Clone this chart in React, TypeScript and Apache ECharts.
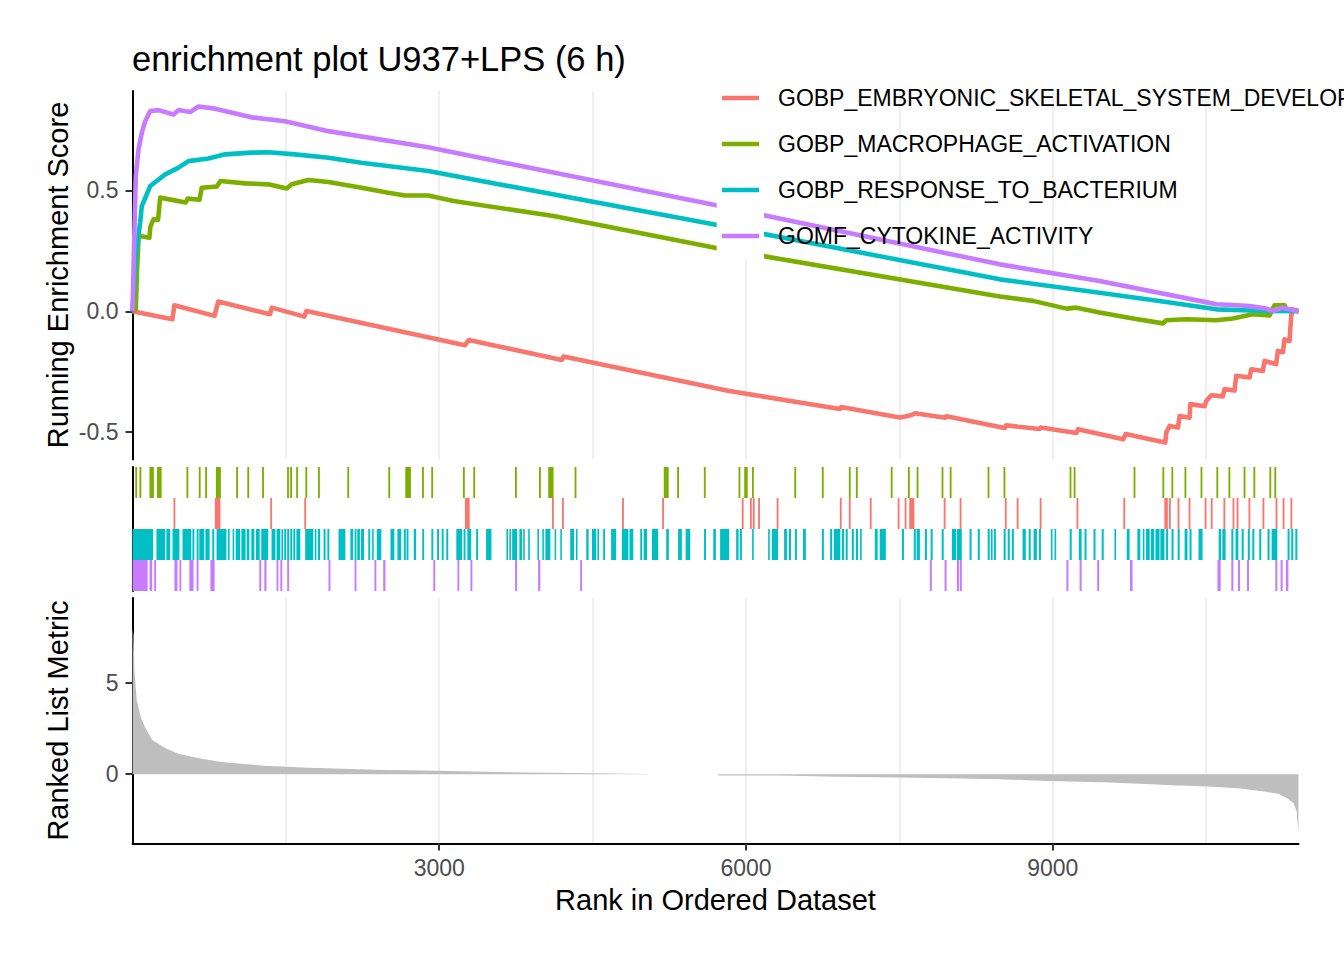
import React, { useEffect, useRef } from "react";
import * as echarts from "echarts";

const FONT = "'Liberation Sans', Arial, Helvetica, sans-serif";
const N_GENES = 11404;
const TITLE = "enrichment plot U937+LPS (6 h)";
const SET_NAMES = [
  "GOBP_EMBRYONIC_SKELETAL_SYSTEM_DEVELOPMENT",
  "GOBP_MACROPHAGE_ACTIVATION",
  "GOBP_RESPONSE_TO_BACTERIUM",
  "GOMF_CYTOKINE_ACTIVITY",
];
const SET_COLORS = ["#F8766D", "#7CAE00", "#00BFC4", "#C77CFF"];
// rug row of each set (0 = bottom row)
const RUG_ROWS = [2, 3, 1, 0];

const X_TICKS = [3000, 6000, 9000];
const ES_TICKS = [-0.5, 0, 0.5];
const METRIC_TICKS = [0, 5];

// Running enrichment score, [rank, score]
const ES_EMBRYONIC: number[][] = [
  [0, 0], [391, -0.033], [409, 0.025], [802, -0.019], [839, 0.04], [1345, -0.012], [1363, 0.015],
  [1681, -0.022], [1700, 0.001], [3252, -0.14], [3289, -0.119], [4200, -0.201], [4215, -0.187],
  [5824, -0.329], [6920, -0.404], [6930, -0.396], [7505, -0.439], [7560, -0.435], [7620, -0.429],
  [7652, -0.422], [7950, -0.44], [7960, -0.434], [8530, -0.483], [8545, -0.472], [8873, -0.487],
  [8882, -0.481], [9233, -0.503], [9247, -0.488], [9690, -0.529], [9713, -0.508], [10101, -0.543],
  [10111, -0.501], [10143, -0.474], [10225, -0.481], [10241, -0.433], [10339, -0.44], [10345, -0.384],
  [10485, -0.393], [10502, -0.371], [10551, -0.347], [10664, -0.352], [10681, -0.322], [10779, -0.328],
  [10795, -0.267], [10925, -0.274], [10942, -0.24], [11055, -0.247], [11072, -0.205], [11186, -0.219],
  [11202, -0.164], [11252, -0.169], [11267, -0.116], [11316, -0.123], [11333, -0.019], [11348, 0.008],
  [11404, 0],
];
const ES_MACROPHAGE: number[][] = [
  [0, 0], [32, 0.008], [45, 0.174], [59, 0.3], [75, 0.311], [165, 0.304], [175, 0.35], [205, 0.38],
  [250, 0.378], [271, 0.47], [520, 0.45], [540, 0.466], [655, 0.461], [677, 0.511], [825, 0.516],
  [860, 0.539], [1101, 0.529], [1329, 0.525], [1508, 0.508], [1557, 0.525], [1720, 0.543], [1915, 0.535],
  [2241, 0.511], [2502, 0.49], [2665, 0.479], [2892, 0.479], [3140, 0.456], [4117, 0.394], [5746, 0.259],
  [8482, 0.061], [8807, 0.043], [9134, 0.011], [9232, 0.015], [9459, -0.005], [9785, -0.03],
  [10078, -0.05], [10111, -0.037], [10307, -0.033], [10600, -0.037], [10762, -0.03], [10957, -0.012],
  [11121, -0.017], [11169, 0.025], [11267, 0.025], [11284, 0.008], [11404, 0],
];
const ES_BACTERIUM: number[][] = [
  [0, 0], [32, 0.229], [75, 0.368], [91, 0.435], [173, 0.518], [320, 0.566], [450, 0.594], [547, 0.621],
  [743, 0.632], [906, 0.649], [1163, 0.656], [1329, 0.658], [1590, 0.649], [1915, 0.635], [2238, 0.614],
  [2892, 0.58], [5746, 0.355], [8482, 0.132], [9459, 0.077], [10111, 0.038], [10600, 0.008],
  [11089, 0.001], [11404, 0],
];
const ES_CYTOKINE: number[][] = [
  [0, 0], [32, 0.559], [59, 0.669], [91, 0.738], [124, 0.786], [173, 0.828], [254, 0.832], [401, 0.814],
  [450, 0.832], [564, 0.824], [645, 0.847], [808, 0.838], [1163, 0.802], [1492, 0.786], [1915, 0.745],
  [2892, 0.678], [5746, 0.435], [8482, 0.194], [9459, 0.125], [10436, 0.043], [10600, 0.029],
  [10762, 0.026], [10925, 0.022], [11089, 0.011], [11150, 0.001], [11248, 0.015], [11404, 0],
];

// Gene-set hit positions, [first rank, last rank] of each tick or block of ticks
const HITS_EMBRYONIC: number[][] = [
  [401, 419], [805, 860], [1347, 1365], [1680, 1698], [3251, 3298], [4103, 4121], [4201, 4219],
  [4788, 4806], [5180, 5198], [5959, 5977], [6039, 6057], [6067, 6085], [6119, 6137], [6300, 6318],
  [6918, 6936], [7006, 7024], [7211, 7229], [7484, 7502], [7552, 7570], [7597, 7647], [7934, 7952],
  [8090, 8108], [8532, 8550], [8648, 8666], [8873, 8891], [9233, 9251], [9691, 9709], [10092, 10126],
  [10137, 10155], [10221, 10239], [10329, 10347], [10486, 10504], [10546, 10564], [10670, 10688],
  [10759, 10777], [10799, 10817], [10915, 10933], [11052, 11070], [11180, 11198], [11249, 11267],
  [11325, 11343],
];
const HITS_MACROPHAGE: number[][] = [
  [27, 45], [68, 86], [166, 209], [240, 285], [528, 546], [648, 666], [711, 729], [816, 864],
  [1014, 1032], [1123, 1141], [1268, 1286], [1512, 1530], [1542, 1560], [1601, 1619], [1691, 1709],
  [1814, 1832], [2101, 2119], [2502, 2520], [2668, 2723], [2832, 2850], [2922, 2940], [3232, 3250],
  [3333, 3351], [3741, 3759], [3976, 3994], [4066, 4118], [4324, 4342], [5196, 5244], [5327, 5345],
  [5588, 5606], [5927, 5945], [5983, 6017], [6059, 6077], [6473, 6491], [6742, 6760], [7006, 7024],
  [7075, 7093], [7416, 7434], [7584, 7602], [7669, 7687], [7913, 7931], [7993, 8011], [8363, 8381],
  [8519, 8537], [9165, 9183], [9205, 9223], [9791, 9809], [10073, 10091], [10161, 10179],
  [10289, 10307], [10446, 10464], [10601, 10619], [10719, 10737], [10867, 10885], [10963, 10981],
  [11119, 11137], [11168, 11186],
];
const HITS_BACTERIUM: number[][] = [
  [0, 201], [234, 320], [331, 369], [391, 459], [489, 575], [586, 605], [627, 646], [653, 702],
  [713, 754], [780, 799], [822, 919], [934, 949], [979, 994], [1009, 1053], [1065, 1106], [1117, 1143],
  [1162, 1192], [1207, 1244], [1259, 1327], [1360, 1398], [1409, 1446], [1457, 1472], [1484, 1502],
  [1513, 1532], [1543, 1562], [1573, 1592], [1603, 1641], [1689, 1768], [1783, 1798], [1813, 1835],
  [1869, 1888], [1906, 1925], [2015, 2082], [2131, 2157], [2172, 2190], [2198, 2224], [2235, 2265],
  [2306, 2325], [2344, 2359], [2389, 2434], [2523, 2561], [2591, 2628], [2654, 2673], [2680, 2699],
  [2751, 2774], [2834, 2852], [2923, 2942], [2979, 2998], [3024, 3043], [3069, 3088], [3167, 3223],
  [3238, 3257], [3275, 3313], [3361, 3380], [3458, 3511], [3657, 3671], [3686, 3701], [3713, 3761],
  [3784, 3810], [3821, 3836], [3870, 3885], [3960, 3974], [4008, 4023], [4038, 4087], [4128, 4143],
  [4184, 4199], [4281, 4318], [4337, 4352], [4438, 4461], [4494, 4535], [4547, 4561], [4603, 4621],
  [4681, 4730], [4786, 4850], [4861, 4898], [4966, 4984], [4999, 5033], [5081, 5141], [5220, 5246],
  [5336, 5373], [5410, 5455], [5590, 5609], [5680, 5706], [5747, 5835], [5904, 5928], [5940, 5960],
  [6060, 6076], [6217, 6233], [6253, 6313], [6373, 6401], [6421, 6441], [6478, 6498], [6558, 6586],
  [6742, 6762], [6823, 6843], [6859, 6923], [6939, 6959], [6975, 6995], [7035, 7055], [7075, 7096],
  [7116, 7132], [7260, 7288], [7308, 7368], [7525, 7545], [7641, 7661], [7669, 7701], [7750, 7770],
  [7806, 7826], [7914, 7934], [8014, 8055], [8063, 8111], [8187, 8207], [8267, 8287], [8364, 8384],
  [8396, 8412], [8424, 8444], [8520, 8540], [8560, 8580], [8600, 8620], [8705, 8737], [8765, 8785],
  [8813, 8845], [8865, 8885], [8982, 8998], [9018, 9034], [9166, 9186], [9255, 9283], [9311, 9331],
  [9399, 9419], [9479, 9499], [9604, 9620], [9724, 9752], [9828, 9857], [9881, 9897], [9913, 9949],
  [9961, 9993], [10005, 10045], [10053, 10093], [10109, 10129], [10162, 10182], [10222, 10242],
  [10290, 10318], [10338, 10358], [10426, 10466], [10623, 10647], [10659, 10691], [10747, 10767],
  [10788, 10816], [10848, 10868], [10908, 10928], [10952, 10972], [11020, 11040], [11101, 11121],
  [11141, 11197], [11297, 11317], [11333, 11353], [11373, 11393],
];
const HITS_CYTOKINE: number[][] = [
  [0, 148], [167, 193], [212, 231], [410, 440], [459, 477], [556, 597], [627, 646], [762, 803],
  [1240, 1259], [1289, 1311], [1409, 1427], [1446, 1465], [1513, 1532], [1917, 1936], [2172, 2190],
  [2366, 2385], [2452, 2474], [2942, 2961], [3178, 3196], [3305, 3324], [3742, 3761], [3967, 3989],
  [4378, 4397], [7798, 7818], [7942, 7962], [8063, 8083], [8091, 8111], [9134, 9154], [9263, 9283],
  [9435, 9455], [9756, 9781], [10611, 10643], [10747, 10767], [10811, 10832], [10900, 10920],
  [11177, 11197], [11229, 11249], [11281, 11305],
];

// Ranked list metric
const METRIC_RANKS = [
  1, 10, 19, 41, 84, 128, 193, 324, 455, 673, 891, 1284, 1720, 2375, 2853, 3334, 3836, 4513, 5044,
  5050, 5725, 5732, 6317, 6899, 7505, 7960, 8479, 8868, 9171, 9561, 9907, 10166, 10513, 10815, 11032,
  11205, 11291, 11356, 11386, 11404,
];
const METRIC_VALUES = [
  7.9, 7.6, 5.69, 4.05, 3.05, 2.51, 1.87, 1.42, 1.11, 0.84, 0.65, 0.47, 0.35, 0.24, 0.2, 0.15, 0.09,
  0.05, 0.02, 0, 0, -0.07, -0.07, -0.13, -0.18, -0.22, -0.27, -0.35, -0.4, -0.45, -0.53, -0.6, -0.67,
  -0.76, -0.91, -1.07, -1.31, -1.58, -2.04, -3.18,
];

const ES_DATA = [ES_EMBRYONIC, ES_MACROPHAGE, ES_BACTERIUM, ES_CYTOKINE];
const HIT_DATA = [HITS_EMBRYONIC, HITS_MACROPHAGE, HITS_BACTERIUM, HITS_CYTOKINE];

const GRID_LEFT = 132.5;
const GRID_RIGHT = 1344 - 1298.5;
const LABEL_COLOR = "#4D4D4D";
const GRID_COLOR = "#EBEBEB";

function buildOption(): any {
  const axisLine = { show: true, lineStyle: { color: "#000000", width: 2 } };
  const tickStyle = { color: "#333333", width: 2 };
  const labelStyle = { fontSize: 23, color: LABEL_COLOR, fontFamily: FONT };
  const gridSplit = {
    show: true,
    showMinLine: false,
    showMaxLine: false,
    lineStyle: { color: GRID_COLOR, width: 1.6 },
  };

  const esSeries = ES_DATA.map((d, i) => ({
    type: "line",
    name: SET_NAMES[i],
    xAxisIndex: 0,
    yAxisIndex: 0,
    data: d,
    symbol: "none",
    showSymbol: false,
    silent: true,
    lineStyle: { color: SET_COLORS[i], width: 4.6, join: "round" },
    itemStyle: { color: SET_COLORS[i] },
    z: 2 + i,
  }));

  const rugSeries = HIT_DATA.map((hits, i) => ({
    type: "custom",
    name: SET_NAMES[i] + " hits",
    xAxisIndex: 1,
    yAxisIndex: 1,
    silent: true,
    data: hits.map((h) => [h[0], h[1], RUG_ROWS[i]]),
    encode: { x: [0, 1], y: 2 },
    renderItem: (params: any, api: any) => {
      const s = api.value(0);
      const e = api.value(1);
      const row = api.value(2);
      const p0 = api.coord([s, row + 1]);
      const p1 = api.coord([e, row]);
      return {
        type: "rect",
        shape: { x: p0[0], y: p0[1], width: Math.max(p1[0] - p0[0], 1.6), height: p1[1] - p0[1] },
        style: { fill: SET_COLORS[i] },
      };
    },
  }));

  const metricSeries = {
    type: "line",
    name: "Ranked List Metric",
    xAxisIndex: 3,
    yAxisIndex: 2,
    data: METRIC_RANKS.map((r, k) => [r, METRIC_VALUES[k]]),
    symbol: "none",
    showSymbol: false,
    silent: true,
    lineStyle: { width: 0, opacity: 0 },
    areaStyle: { color: "#BEBEBE", opacity: 1 },
  };

  const legendTop = 75;
  const rowH = 46;
  const legendGraphics: any[] = [
    {
      type: "rect",
      shape: { x: 716.7, y: legendTop, width: 47.3, height: rowH * SET_NAMES.length },
      style: { fill: "#FFFFFF" },
      z: 100,
      silent: true,
    },
  ];
  SET_NAMES.forEach((name, i) => {
    const cy = legendTop + rowH * i + rowH / 2;
    legendGraphics.push({
      type: "line",
      shape: { x1: 722, y1: cy, x2: 759, y2: cy },
      style: { stroke: SET_COLORS[i], lineWidth: 4.6 },
      z: 101,
      silent: true,
    });
    legendGraphics.push({
      type: "text",
      x: 778,
      y: cy,
      style: {
        text: name,
        fontSize: 23,
        fontFamily: FONT,
        fill: "#000000",
        align: "left",
        verticalAlign: "middle",
      },
      z: 101,
      silent: true,
    });
  });

  return {
    animation: false,
    backgroundColor: "#FFFFFF",
    grid: [
      { left: GRID_LEFT, right: GRID_RIGHT, top: 91, height: 368.5 },
      { left: GRID_LEFT, right: GRID_RIGHT, top: 467, height: 124 },
      { left: GRID_LEFT, right: GRID_RIGHT, top: 598, height: 245.5 },
    ],
    xAxis: [
      {
        gridIndex: 0, type: "value", min: 0, max: N_GENES, interval: 1500,
        axisLine: { show: false }, axisTick: { show: false }, axisLabel: { show: false },
        splitLine: gridSplit,
      },
      {
        gridIndex: 1, type: "value", min: 0, max: N_GENES,
        axisLine: { show: false }, axisTick: { show: false }, axisLabel: { show: false },
        splitLine: { show: false },
      },
      {
        gridIndex: 2, type: "value", min: 0, max: N_GENES, interval: 1500, position: "top",
        axisLine: { show: false }, axisTick: { show: false }, axisLabel: { show: false },
        splitLine: gridSplit,
      },
      {
        gridIndex: 2, type: "value", min: 0, max: N_GENES, interval: 1500, position: "bottom",
        axisLine,
        axisTick: { show: true, customValues: X_TICKS, length: 7, lineStyle: tickStyle },
        axisLabel: {
          show: true, customValues: X_TICKS, margin: 13, ...labelStyle,
          formatter: (v: number) => String(Math.round(v)),
        },
        splitLine: { show: false },
      },
    ],
    yAxis: [
      {
        gridIndex: 0, type: "value", min: -0.613, max: 0.911,
        axisLine,
        axisTick: { show: true, customValues: ES_TICKS, length: 7, lineStyle: tickStyle },
        axisLabel: {
          show: true, customValues: ES_TICKS, margin: 14, ...labelStyle,
          formatter: (v: number) => v.toFixed(1),
        },
        splitLine: { show: false },
      },
      {
        gridIndex: 1, type: "value", min: 0, max: 4,
        axisLine, axisTick: { show: false }, axisLabel: { show: false }, splitLine: { show: false },
      },
      {
        gridIndex: 2, type: "value", min: -3.78, max: 9.62,
        axisLine,
        axisTick: { show: true, customValues: METRIC_TICKS, length: 7, lineStyle: tickStyle },
        axisLabel: {
          show: true, customValues: METRIC_TICKS, margin: 14, ...labelStyle,
          formatter: (v: number) => String(v),
        },
        splitLine: { show: false },
      },
    ],
    series: [...esSeries, ...rugSeries, metricSeries],
    graphic: [
      {
        type: "text", x: 132, y: 59, silent: true,
        style: { text: TITLE, fontSize: 34.5, fontFamily: FONT, fill: "#000000", align: "left", verticalAlign: "middle" },
      },
      {
        type: "text", x: 58, y: 275, rotation: Math.PI / 2, silent: true,
        style: { text: "Running Enrichment Score", fontSize: 29, fontFamily: FONT, fill: "#000000", align: "center", verticalAlign: "middle" },
      },
      {
        type: "text", x: 57.5, y: 720.5, rotation: Math.PI / 2, silent: true,
        style: { text: "Ranked List Metric", fontSize: 29, fontFamily: FONT, fill: "#000000", align: "center", verticalAlign: "middle" },
      },
      {
        type: "text", x: 715.5, y: 900, silent: true,
        style: { text: "Rank in Ordered Dataset", fontSize: 29, fontFamily: FONT, fill: "#000000", align: "center", verticalAlign: "middle" },
      },
      ...legendGraphics,
    ],
  };
}

export default function App() {
  const ref = useRef<HTMLDivElement>(null);
  useEffect(() => {
    document.body.style.margin = "0";
    if (!ref.current) return;
    const chart = echarts.init(ref.current, null, { renderer: "svg" });
    chart.setOption(buildOption());
    return () => {
      chart.dispose();
    };
  }, []);
  return <div ref={ref} style={{ width: 1344, height: 960, overflow: "hidden" }} />;
}
